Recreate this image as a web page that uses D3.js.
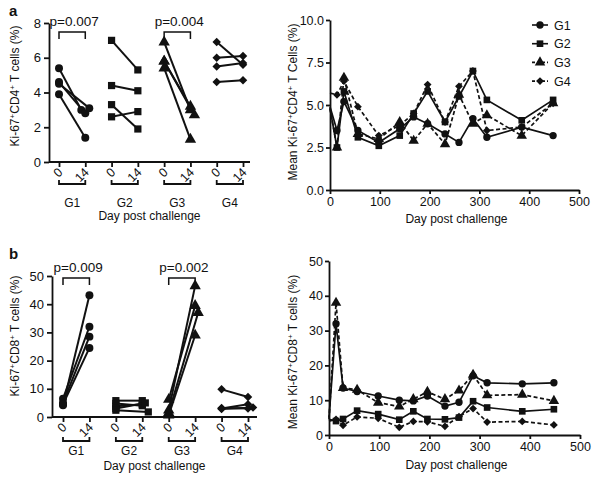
<!DOCTYPE html>
<html><head><meta charset="utf-8">
<script src="https://cdn.jsdelivr.net/npm/d3@7"></script>
<style>body{margin:0;background:#fff}svg{font-family:"Liberation Sans",Arial,sans-serif}</style>
</head><body><svg id="c" width="600" height="482"></svg>
<script>
// ---------- DATA ----------
const groups = ["G1","G2","G3","G4"];
const dayTickLabels = ["0","14"];
// paired values [day0, day14] per animal, CD4
const cd4G1 = [[5.4,3.0],[4.6,2.8],[4.5,3.1],[3.9,1.4]];
const cd4G2 = [[7.0,5.3],[4.4,4.1],[3.3,1.9],[2.6,2.9]];
const cd4G3 = [[6.9,3.0],[5.8,3.2],[5.8,2.7],[5.4,1.3]];
const cd4G4 = [[6.9,5.6],[6.0,6.1],[5.5,5.7],[4.6,4.7]];
// paired values, CD8
const cd8G1 = [[4.2,43.2],[6.5,32.0],[5.0,28.5],[4.5,24.5]];
const cd8G2 = [[5.8,5.8],[4.8,4.0],[3.8,4.5],[3.0,5.0],[2.4,1.8]];
const cd8G3 = [[2.4,46.5],[6.2,39.5],[1.5,37.0],[0.6,29.0]];
const cd8G4 = [[9.8,7.1],[3.0,4.5],[3.2,3.0],[2.8,3.4]];
const pLabelsA = ["p=0.007", null, "p=0.004", null];
const pLabelsB = ["p=0.009", null, "p=0.002", null];
// time course means
const days = [0,14,28,56,98,140,168,196,231,259,287,315,385,448];
const meanCD4G1 = [4.9,3.5,5.2,3.5,2.8,3.6,4.3,3.9,3.3,2.8,4.2,3.1,3.7,3.2];
const meanCD4G2 = [4.8,2.5,5.8,3.1,2.6,3.2,4.5,5.8,4.0,5.5,7.0,5.3,4.1,5.3];
const meanCD4G3 = [4.8,2.5,6.6,3.3,3.0,4.0,2.9,3.9,2.7,5.6,3.9,4.4,3.2,5.1];
const meanCD4G4 = [5.7,5.6,6.4,4.9,3.2,3.8,4.5,6.2,4.0,6.1,7.0,3.5,3.7,5.1];
const meanCD8G1 = [5.0,32.0,13.5,12.5,11.2,10.0,9.8,11.2,8.3,9.4,17.0,15.0,14.7,15.0];
const meanCD8G2 = [4.5,4.0,4.6,7.0,6.0,4.4,6.8,4.6,4.5,5.0,9.7,7.9,6.8,7.4];
const meanCD8G3 = [4.5,38.0,13.5,13.0,9.3,8.2,10.3,12.4,10.3,12.8,17.3,11.4,11.6,9.8];
const meanCD8G4 = [4.0,4.5,2.8,5.2,4.8,2.2,3.9,3.8,2.5,5.3,7.6,3.7,3.9,2.9];
const cd4Ticks = [0,2,4,6,8];
const cd8Ticks = [0,10,20,30,40,50];
const meanCD4Ticks = [0,2.5,5,7.5,10];
const meanCD8Ticks = [0,10,20,30,40,50];
const dayAxisTicks = [0,100,200,300,400,500];

// ---------- STYLE ----------
const svg = d3.select("#c");
const INK = "#111";
const FS = 12;
const symTypes = [d3.symbolCircle, d3.symbolSquare, d3.symbolTriangle, d3.symbolSquare];
const symRot = [0,0,0,45];
const symSize = [50,52,56,36];
const dashes = [null,null,"4,2.5","4,2.5"];

function marker(g, gi, x, y, scale=1){
  g.append("path").attr("d", d3.symbol().type(symTypes[gi]).size(symSize[gi]*scale)())
   .attr("transform", `translate(${x},${y}) rotate(${symRot[gi]})`).attr("fill", INK);
}
function styleAxis(ax, fs){
  ax.selectAll("path,line").attr("stroke", INK).attr("stroke-width", 1.8);
  ax.selectAll("text").attr("font-size", fs || FS).attr("fill", INK);
}

// ---------- PAIRED PANELS ----------
function paired(cfg){
  const {data, yMax, ticks, top, bottom, axisX, x0, x1, axisEnd, pLabels, jit} = cfg;
  const keys = [];
  groups.forEach(g => dayTickLabels.forEach(d => keys.push(g+"|"+d)));
  const x = d3.scalePoint().domain(keys).range([x0, x1]);
  const y = d3.scaleLinear().domain([0, yMax]).range([bottom, top]);
  const g = svg.append("g");
  const ay = g.append("g").attr("transform", `translate(${axisX},0)`)
    .call(d3.axisLeft(y).tickValues(ticks).tickSize(5).tickSizeOuter(0).tickPadding(3));
  styleAxis(ay, 13);
  g.append("line").attr("x1", axisX).attr("x2", axisEnd).attr("y1", bottom).attr("y2", bottom)
    .attr("stroke", INK).attr("stroke-width", 1.8);
  const ax = g.append("g").attr("transform", `translate(0,${bottom})`)
    .call(d3.axisBottom(x).tickSize(5).tickFormat(k => k.split("|")[1]));
  ax.select(".domain").remove();
  styleAxis(ax, 12.5);
  ax.selectAll("text").attr("text-anchor","end").attr("dy", null).attr("y", null)
    .attr("transform", "translate(4,11) rotate(-45)");
  groups.forEach((gn, gi) => {
    const xa = x(gn+"|0"), xb = x(gn+"|14");
    const by = bottom + cfg.brY;
    g.append("path").attr("d", `M${xa},${by-4}V${by}H${xb}V${by-4}`)
      .attr("fill","none").attr("stroke", INK).attr("stroke-width", 1.8);
    g.append("text").attr("x", (xa+xb)/2).attr("y", bottom + cfg.gY).attr("text-anchor","middle")
      .attr("font-size", FS).attr("fill", INK).text(gn);
    if (pLabels[gi]) {
      const py = top + cfg.pBr;
      g.append("path").attr("d", `M${xa},${py+7}V${py}H${xb}V${py+7}`)
        .attr("fill","none").attr("stroke", INK).attr("stroke-width", 1.5);
      g.append("text").attr("x", (xa+xb)/2 + 2).attr("y", py - 6).attr("text-anchor","middle")
        .attr("font-size", 13.5).attr("fill", INK).text(pLabels[gi]);
    }
    data[gi].forEach((pr, i) => {
      const j = jit[gi][i] || 0;
      const xb2 = xb + j;
      g.append("line").attr("x1", xa).attr("x2", xb2).attr("y1", y(pr[0])).attr("y2", y(pr[1]))
        .attr("stroke", INK).attr("stroke-width", 2);
      marker(g, gi, xa, y(pr[0]));
      marker(g, gi, xb2, y(pr[1]));
    });
  });
  g.append("text").attr("x", (axisX+axisEnd)/2).attr("y", bottom + cfg.tY).attr("text-anchor","middle")
    .attr("font-size", FS).attr("fill", INK).text("Day post challenge");
}

paired({data:[cd4G1,cd4G2,cd4G3,cd4G4], yMax:8, ticks:cd4Ticks, top:23, bottom:162, axisX:49,
  x0:59, x1:243, axisEnd:250, pLabels:pLabelsA, brY:22, gY:45, tY:58, pBr:9,
  jit:[[-4,0,4,0],[0,0,0,0],[0,0,4,0],[0,0,0,0]]});
paired({data:[cd8G1,cd8G2,cd8G3,cd8G4], yMax:50, ticks:cd8Ticks, top:276, bottom:417, axisX:52,
  x0:63, x1:248, axisEnd:257, pLabels:pLabelsB, brY:24, gY:38, tY:53, pBr:2,
  jit:[[0,0,0,0],[0,0,0,3,6],[0,0,3,0],[0,0,0,5]]});

// ---------- TIME COURSE PANELS ----------
function timeCourse(cfg){
  const {series, yMax, ticks, top, bottom, left, right, fmt} = cfg;
  const x = d3.scaleLinear().domain([0,500]).range([left, right]);
  const y = d3.scaleLinear().domain([0,yMax]).range([bottom, top]);
  const g = svg.append("g");
  const ay = g.append("g").attr("transform", `translate(${left},0)`)
    .call(d3.axisLeft(y).tickValues(ticks).tickSize(4).tickSizeOuter(0).tickPadding(2).tickFormat(fmt));
  styleAxis(ay, 12.5);
  const ax = g.append("g").attr("transform", `translate(0,${bottom})`)
    .call(d3.axisBottom(x).tickValues(dayAxisTicks).tickSize(4).tickSizeOuter(0).tickPadding(3));
  styleAxis(ax, 12.5);
  const line = d3.line().x((d,i)=>x(days[i])).y(d=>y(d));
  series.forEach((s, gi) => {
    g.append("path").attr("d", line(s)).attr("fill","none").attr("stroke", INK)
      .attr("stroke-width", 1.7).attr("stroke-dasharray", dashes[gi]);
    s.forEach((v,i) => { if (days[i] > 0) marker(g, gi, x(days[i]), y(v), 0.85); });
  });
  g.append("text").attr("x", (left+right)/2 + 2).attr("y", bottom + cfg.tY).attr("text-anchor","middle")
    .attr("font-size", FS).attr("fill", INK).text("Day post challenge");
}
timeCourse({series:[meanCD4G1,meanCD4G2,meanCD4G3,meanCD4G4], yMax:10, ticks:meanCD4Ticks,
  top:20, bottom:190, left:330, right:579, fmt:d3.format(".1f"), tY:33});
timeCourse({series:[meanCD8G1,meanCD8G2,meanCD8G3,meanCD8G4], yMax:50, ticks:meanCD8Ticks,
  top:261, bottom:435, left:329, right:580, fmt:d3.format("d"), tY:34});

// legend
groups.forEach((gn, gi) => {
  const ly = 25 + gi*18.7;
  svg.append("line").attr("x1",532).attr("x2",548).attr("y1",ly).attr("y2",ly)
    .attr("stroke",INK).attr("stroke-width",1.6).attr("stroke-dasharray", gi>1 ? "3,2" : null);
  marker(svg, gi, 540, ly, 0.85);
  svg.append("text").attr("x",554).attr("y",ly+4.5).attr("font-size",12.5).attr("fill",INK).text(gn);
});

// axis titles
function yTitle(x, y, a, b, tail){
  const t = svg.append("text").attr("transform", `translate(${x},${y}) rotate(-90)`)
    .attr("text-anchor","middle").attr("font-size", FS).attr("fill", INK);
  t.append("tspan").text(a);
  t.append("tspan").attr("dy",-4).attr("font-size",8).text("+");
  t.append("tspan").attr("dy",4).text(b);
  t.append("tspan").attr("dy",-4).attr("font-size",8).text("+");
  t.append("tspan").attr("dy",4).text(tail);
}
yTitle(19, 86, "Ki-67", "CD4", " T cells (%)");
yTitle(297, 102, "Mean Ki-67", "CD4", " T Cells (%)");
yTitle(19, 336, "Ki-67", "CD8", " T cells (%)");
yTitle(297, 352, "Mean Ki-67", "CD8", " T cells (%)");

// panel letters
svg.append("text").attr("x",9).attr("y",16).attr("font-size",15).attr("font-weight","bold").attr("fill",INK).text("a");
svg.append("text").attr("x",9).attr("y",259).attr("font-size",15).attr("font-weight","bold").attr("fill",INK).text("b");
</script></body></html>
